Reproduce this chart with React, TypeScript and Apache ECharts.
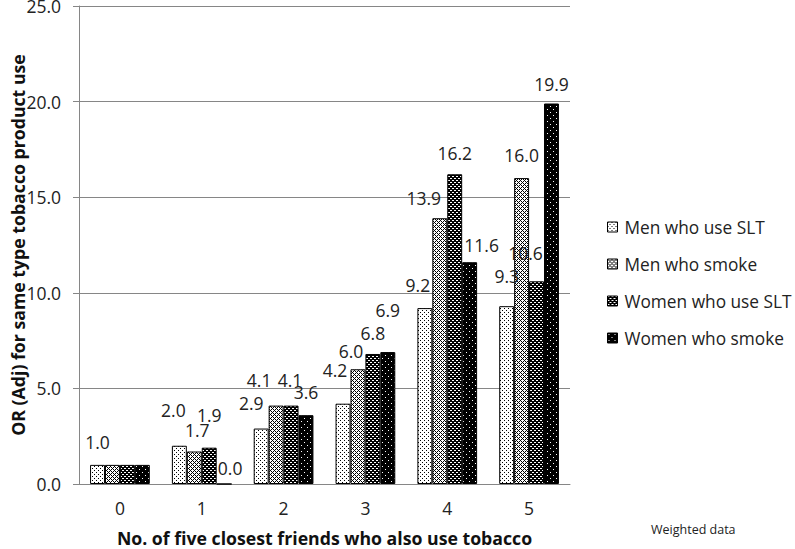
import React, { useEffect, useRef } from "react";
import * as echarts from "echarts";

const categories = ["0", "1", "2", "3", "4", "5"];
const seriesNames = ["Men who use SLT", "Men who smoke", "Women who use SLT", "Women who smoke"];
const menSLT = [1.0, 2.0, 2.9, 4.2, 9.2, 9.3];
const menSmoke = [1.0, 1.7, 4.1, 6.0, 13.9, 16.0];
const womenSLT = [1.0, 1.9, 4.1, 6.8, 16.2, 10.6];
const womenSmoke = [1.0, 0.0, 3.6, 6.9, 11.6, 19.9];
const yTicks = [0, 5, 10, 15, 20, 25];
const xTitle = "No. of five closest friends who also use tobacco";
const yTitle = "OR (Adj) for same type tobacco product use";
const note = "Weighted data";

// layout only: data-label nudges (px) as placed in the original, and which labels are hidden
const labelOffsets: number[][][] = [
  [[0, -2], [-6, -15], [-10, -5], [-8, -13], [-7, -2], [0, -9]],
  [[0, 0], [3, 0], [-17, -5], [-7, 3], [-16, 1], [0, -2]],
  [[0, 0], [0, -12], [-1, -5], [0, 0], [0, 0], [-11, -7]],
  [[0, 0], [6, 5], [0, -2], [0, -21], [12, 4], [0, 1]],
];
const hiddenLabels: number[][] = [[], [0], [0], [0]];

const FONT = "'Open Sans', 'Liberation Sans', sans-serif";

function makePattern(w: number, h: number, bg: string, fg: string, pts: number[][]) {
  const c = document.createElement("canvas");
  c.width = w;
  c.height = h;
  const ctx = c.getContext("2d")!;
  ctx.fillStyle = bg;
  ctx.fillRect(0, 0, w, h);
  ctx.fillStyle = fg;
  pts.forEach(([x, y]) => ctx.fillRect(x, y, 1, 1));
  return { image: c.toDataURL(), repeat: "repeat", imageWidth: w, imageHeight: h } as any;
}

export default function App() {
  const ref = useRef<HTMLDivElement>(null);
  useEffect(() => {
    if (!ref.current) return;
    const chart = echarts.init(ref.current, null, { renderer: "svg" });
    const patterns = [
      makePattern(4, 4, "#ffffff", "#000000", [[0, 0], [2, 2]]),
      makePattern(4, 4, "#ffffff", "#000000", [[0, 0], [1, 1], [3, 1], [2, 2], [1, 3], [3, 3]]),
      makePattern(4, 4, "#000000", "#ffffff", [[0, 0], [1, 0], [2, 2], [3, 2]]),
      makePattern(6, 6, "#000000", "#ffffff", [[1, 1], [4, 4]]),
    ];
    const values = [menSLT, menSmoke, womenSLT, womenSmoke];
    const series = values.map((vals, si) => ({
      name: seriesNames[si],
      type: "bar",
      barGap: "0%",
      barCategoryGap: "27%",
      itemStyle: { color: patterns[si], borderColor: "#000", borderWidth: 1 },
      label: {
        show: true,
        position: "top",
        distance: 12,
        fontSize: 17.5,
        fontFamily: FONT,
        color: "#222",
        formatter: (p: any) => Number(p.value).toFixed(1),
      },
      data: vals.map((v, i) => ({
        value: v,
        label: hiddenLabels[si].includes(i) ? { show: false } : { offset: labelOffsets[si][i] },
      })),
    }));
    chart.setOption({
      animation: false,
      textStyle: { fontFamily: FONT },
      grid: { left: 79, right: 225, top: 6, bottom: 65, containLabel: false, outerBoundsMode: "none" },
      legend: {
        orient: "vertical",
        left: 602,
        top: 212,
        itemWidth: 10,
        itemHeight: 10,
        itemGap: 17,
        icon: "rect",
        itemStyle: { borderColor: "#000", borderWidth: 1 },
        textStyle: { fontSize: 17.3, color: "#222", fontFamily: FONT, lineHeight: 20, padding: [0, 0, 0, 2] },
        data: seriesNames,
      },
      xAxis: {
        type: "category",
        data: categories,
        axisLine: { lineStyle: { color: "#868686" } },
        axisTick: { show: false },
        axisLabel: { fontSize: 17.5, color: "#222", margin: 15, fontFamily: FONT },
        name: xTitle,
        nameLocation: "middle",
        nameGap: 45,
        nameMoveOverlap: false,
        nameTextStyle: { fontSize: 17.7, fontWeight: "bold", color: "#111", fontFamily: FONT },
      },
      yAxis: {
        type: "value",
        min: yTicks[0],
        max: yTicks[yTicks.length - 1],
        interval: 5,
        axisLine: { show: true, lineStyle: { color: "#868686" } },
        axisTick: { show: true, length: 6, lineStyle: { color: "#868686" } },
        splitLine: { lineStyle: { color: "#868686" } },
        axisLabel: {
          fontSize: 17.5,
          color: "#222",
          margin: 18,
          fontFamily: FONT,
          formatter: (v: number) => v.toFixed(1),
        },
        name: yTitle,
        nameLocation: "middle",
        nameGap: 52,
        nameMoveOverlap: false,
        nameTextStyle: { fontSize: 17.7, fontWeight: "bold", color: "#111", fontFamily: FONT },
      },
      graphic: [
        {
          type: "text",
          left: 651,
          top: 523,
          style: { text: note, fontSize: 12.5, fill: "#222", fontFamily: FONT },
        },
      ],
      series,
    });
    return () => chart.dispose();
  }, []);
  return <div ref={ref} style={{ width: 795, height: 549, position: "absolute", left: 0, top: 0 }} />;
}
